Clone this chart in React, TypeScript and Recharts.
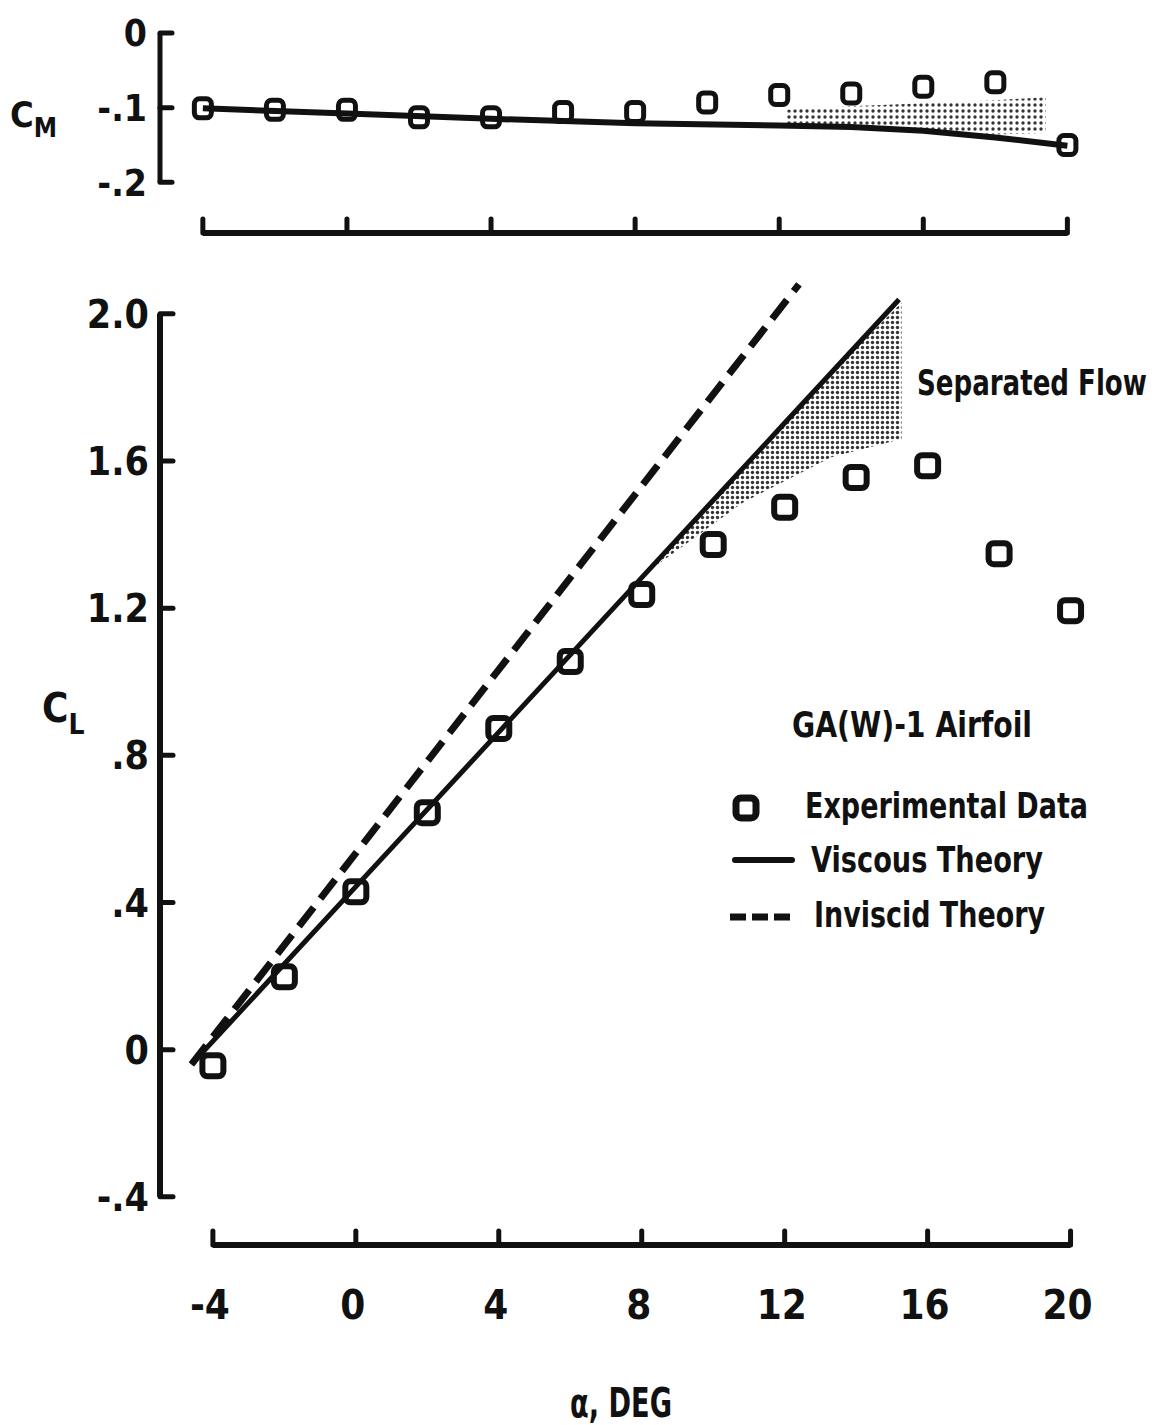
import React from "react";
import { ComposedChart, Line, Scatter, Area, XAxis, YAxis, ReferenceLine } from "recharts";

// experimental data, GA(W)-1 airfoil
const alphaExp = [-4, -2, 0, 2, 4, 6, 8, 10, 12, 14, 16, 18, 20];
const clExp = [-0.044, 0.198, 0.429, 0.644, 0.873, 1.055, 1.237, 1.373, 1.474, 1.555, 1.587, 1.348, 1.193];
const cmExp = [-0.101, -0.103, -0.103, -0.113, -0.113, -0.106, -0.106, -0.093, -0.083, -0.081, -0.072, -0.066, -0.15];

// theory curves
const alphaViscousCl = [-4.6, 0, 4, 8, 12, 15.2];
const clViscous = [-0.04, 0.443, 0.863, 1.283, 1.703, 2.039];
const alphaInviscidCl = [-4.6, 0, 4, 8, 12.4];
const clInviscid = [-0.04, 0.534, 1.033, 1.532, 2.08];
const alphaViscousCm = [-4, 0, 4, 8, 12, 14, 16, 18, 20];
const cmViscous = [-0.101, -0.108, -0.115, -0.121, -0.124, -0.126, -0.131, -0.14, -0.151];

// separated flow regions
const alphaSepCl = [7.9, 10.8, 13.3, 15.27];
const clSepLow = [1.28, 1.485, 1.61, 1.66];
const clSepHigh = [1.28, 1.577, 1.838, 2.03];
const alphaSepCm = [12.2, 14, 16, 18, 19.4];
const cmSepLow = [-0.124, -0.126, -0.131, -0.136, -0.134];
const cmSepHigh = [-0.103, -0.098, -0.094, -0.09, -0.086];

// ticks
const alphaTicks = [-4, 0, 4, 8, 12, 16, 20];
const clTicks = [-0.4, 0, 0.4, 0.8, 1.2, 1.6, 2.0];
const cmTicks = [-0.2, -0.1, 0];

// where the offset axes sit, in data units
const CL_AXIS_ALPHA = -5.48;
const ALPHA_AXIS_CL = -0.531;
const CM_AXIS_ALPHA = -5.19;
const ALPHA_AXIS_CM = -0.268;
const ALPHA_MAX = 20.6;

const INK = "#111";
const FONT = "'DejaVu Sans Condensed', 'Liberation Sans Narrow', sans-serif";

const clExpData = alphaExp.map((a, i) => ({ alpha: a, cl: clExp[i] }));
const cmExpData = alphaExp.map((a, i) => ({ alpha: a, cm: cmExp[i] }));
const clViscousData = alphaViscousCl.map((a, i) => ({ alpha: a, cl: clViscous[i] }));
const clInviscidData = alphaInviscidCl.map((a, i) => ({ alpha: a, cl: clInviscid[i] }));
const cmViscousData = alphaViscousCm.map((a, i) => ({ alpha: a, cm: cmViscous[i] }));
const clSepData = alphaSepCl.map((a, i) => ({ alpha: a, band: [clSepLow[i], clSepHigh[i]] }));
const cmSepData = alphaSepCm.map((a, i) => ({ alpha: a, band: [cmSepLow[i], cmSepHigh[i]] }));

const fmt = (v: number) => {
  if (Math.abs(v) < 1e-9) return "0";
  return Math.abs(v) >= 1 ? v.toFixed(1) : v.toFixed(1).replace("0.", ".");
};

const bigSquare = (p: any) => (
  <rect x={p.cx - 10.5} y={p.cy - 10.5} width={21} height={21} rx={5} fill="none" stroke={INK} strokeWidth={6} />
);
const smallSquare = (p: any) => (
  <rect x={p.cx - 8.5} y={p.cy - 9.5} width={17} height={19} rx={5} fill="none" stroke={INK} strokeWidth={5} />
);

// bottom chart sits at page y=250
const CL_AXIS_X = 160;
const ALPHA_AXIS_Y = 995;

const ClTick = (props: any) => {
  const { y, payload } = props;
  return (
    <g>
      <line x1={CL_AXIS_X} x2={CL_AXIS_X + 13} y1={y} y2={y} stroke={INK} strokeWidth={5} strokeLinecap="round" />
      <text x={149} y={y} dy="0.36em" textAnchor="end" fontFamily={FONT} fontWeight={700} fontSize={39} fill={INK}>
        {fmt(payload.value)}
      </text>
    </g>
  );
};

const AlphaTick = (props: any) => {
  const { x, payload } = props;
  return (
    <g>
      <line x1={x} x2={x} y1={ALPHA_AXIS_Y} y2={ALPHA_AXIS_Y - 14} stroke={INK} strokeWidth={5} strokeLinecap="round" />
      <text x={x - 3} y={ALPHA_AXIS_Y + 74} textAnchor="middle" fontFamily={FONT} fontWeight={700} fontSize={40} fill={INK}>
        {payload.value}
      </text>
    </g>
  );
};

const CmTick = (props: any) => {
  const { y, payload } = props;
  return (
    <g>
      <line x1={CL_AXIS_X} x2={CL_AXIS_X + 12} y1={y} y2={y} stroke={INK} strokeWidth={5} strokeLinecap="round" />
      <text x={147} y={y} dy="0.36em" textAnchor="end" fontFamily={FONT} fontWeight={700} fontSize={37} fill={INK}>
        {fmt(payload.value)}
      </text>
    </g>
  );
};

const CmAlphaTick = (props: any) => {
  const { x } = props;
  return <line x1={x} x2={x} y1={233} y2={219} stroke={INK} strokeWidth={5} strokeLinecap="round" />;
};

const txt = { fontFamily: FONT, fontWeight: 700, fill: INK, lengthAdjust: "spacingAndGlyphs" } as const;

export default function App() {
  return (
    <div style={{ position: "absolute", left: 0, top: 0, width: 1158, height: 1425, background: "#fff" }}>
      <div style={{ position: "absolute", left: 0, top: 0 }}>
        <ComposedChart width={1158} height={250} margin={{ top: 33, right: 69, bottom: 16, left: 159 }}>
          <defs>
            <pattern id="cmDots" patternUnits="userSpaceOnUse" width={6} height={6}>
              <circle cx={3} cy={3} r={1.7} fill={INK} />
            </pattern>
          </defs>
          <XAxis type="number" dataKey="alpha" domain={[CM_AXIS_ALPHA, ALPHA_MAX]} ticks={alphaTicks} interval={0}
            axisLine={false} tickLine={false} height={1} tick={CmAlphaTick} allowDataOverflow />
          <YAxis type="number" domain={[ALPHA_AXIS_CM, 0]} ticks={cmTicks} interval={0}
            axisLine={false} tickLine={false} width={1} tick={CmTick} allowDataOverflow />
          <ReferenceLine segment={[{ x: CM_AXIS_ALPHA, y: -0.2 }, { x: CM_AXIS_ALPHA, y: 0 }]}
            stroke={INK} strokeWidth={5} ifOverflow="visible" />
          <ReferenceLine segment={[{ x: -4, y: ALPHA_AXIS_CM }, { x: 20, y: ALPHA_AXIS_CM }]}
            stroke={INK} strokeWidth={6} ifOverflow="visible" />
          <Area data={cmSepData} dataKey="band" type="linear" stroke="none" fill="url(#cmDots)" fillOpacity={0.85}
            isAnimationActive={false} />
          <Line data={cmViscousData} dataKey="cm" type="linear" stroke={INK} strokeWidth={6} dot={false}
            isAnimationActive={false} />
          <Scatter data={cmExpData} dataKey="cm" shape={smallSquare} isAnimationActive={false} />
        </ComposedChart>
      </div>

      <div style={{ position: "absolute", left: 0, top: 250 }}>
        <ComposedChart width={1158} height={1175} margin={{ top: 27, right: 66, bottom: 179, left: 159 }}>
          <defs>
            <pattern id="clDots" patternUnits="userSpaceOnUse" width={5} height={5}>
              <circle cx={2.5} cy={2.5} r={1.7} fill={INK} />
            </pattern>
          </defs>
          <XAxis type="number" dataKey="alpha" domain={[CL_AXIS_ALPHA, ALPHA_MAX]} ticks={alphaTicks} interval={0}
            axisLine={false} tickLine={false} height={1} tick={AlphaTick} allowDataOverflow />
          <YAxis type="number" domain={[ALPHA_AXIS_CL, 2.1]} ticks={clTicks} interval={0}
            axisLine={false} tickLine={false} width={1} tick={ClTick} allowDataOverflow />
          <ReferenceLine segment={[{ x: CL_AXIS_ALPHA, y: -0.4 }, { x: CL_AXIS_ALPHA, y: 2.0 }]}
            stroke={INK} strokeWidth={6} ifOverflow="visible" />
          <ReferenceLine segment={[{ x: -4, y: ALPHA_AXIS_CL }, { x: 20, y: ALPHA_AXIS_CL }]}
            stroke={INK} strokeWidth={6} ifOverflow="visible" />
          <Area data={clSepData} dataKey="band" type="linear" stroke="none" fill="url(#clDots)" fillOpacity={0.85}
            isAnimationActive={false} />
          <Line data={clInviscidData} dataKey="cl" type="linear" stroke={INK} strokeWidth={7}
            strokeDasharray="24 11" dot={false} isAnimationActive={false} />
          <Line data={clViscousData} dataKey="cl" type="linear" stroke={INK} strokeWidth={5} dot={false}
            isAnimationActive={false} />
          <Scatter data={clExpData} dataKey="cl" shape={bigSquare} isAnimationActive={false} />
        </ComposedChart>
      </div>

      <svg width={1158} height={1425} style={{ position: "absolute", left: 0, top: 0, pointerEvents: "none" }}>
        <text x={10} y={127} fontSize={36} {...txt}>
          C<tspan fontSize={26} dy={10}>M</tspan>
        </text>
        <text x={42} y={722} fontSize={40} {...txt}>
          C<tspan fontSize={28} dy={12}>L</tspan>
        </text>
        <g transform="translate(917,395) scale(1,1.25)">
          <text x={0} y={0} fontSize={29} fontFamily={FONT} fontWeight={700} fill={INK}>Separated Flow</text>
        </g>
        <text x={792} y={737} fontSize={36} textLength={240} {...txt}>GA(W)-1 Airfoil</text>
        <rect x={736} y={798} width={20} height={20} rx={5} fill="none" stroke={INK} strokeWidth={7} />
        <text x={805} y={818} fontSize={35} textLength={283} {...txt}>Experimental Data</text>
        <line x1={735} x2={792} y1={860} y2={860} stroke={INK} strokeWidth={6} strokeLinecap="round" />
        <text x={811} y={872} fontSize={35} textLength={232} {...txt}>Viscous Theory</text>
        <line x1={730} x2={794} y1={917} y2={917} stroke={INK} strokeWidth={7} strokeDasharray="16 6" />
        <text x={814} y={927} fontSize={35} textLength={231} {...txt}>Inviscid Theory</text>
        <text x={570} y={1417} fontSize={40} textLength={102} {...txt}>α, DEG</text>
      </svg>
    </div>
  );
}
